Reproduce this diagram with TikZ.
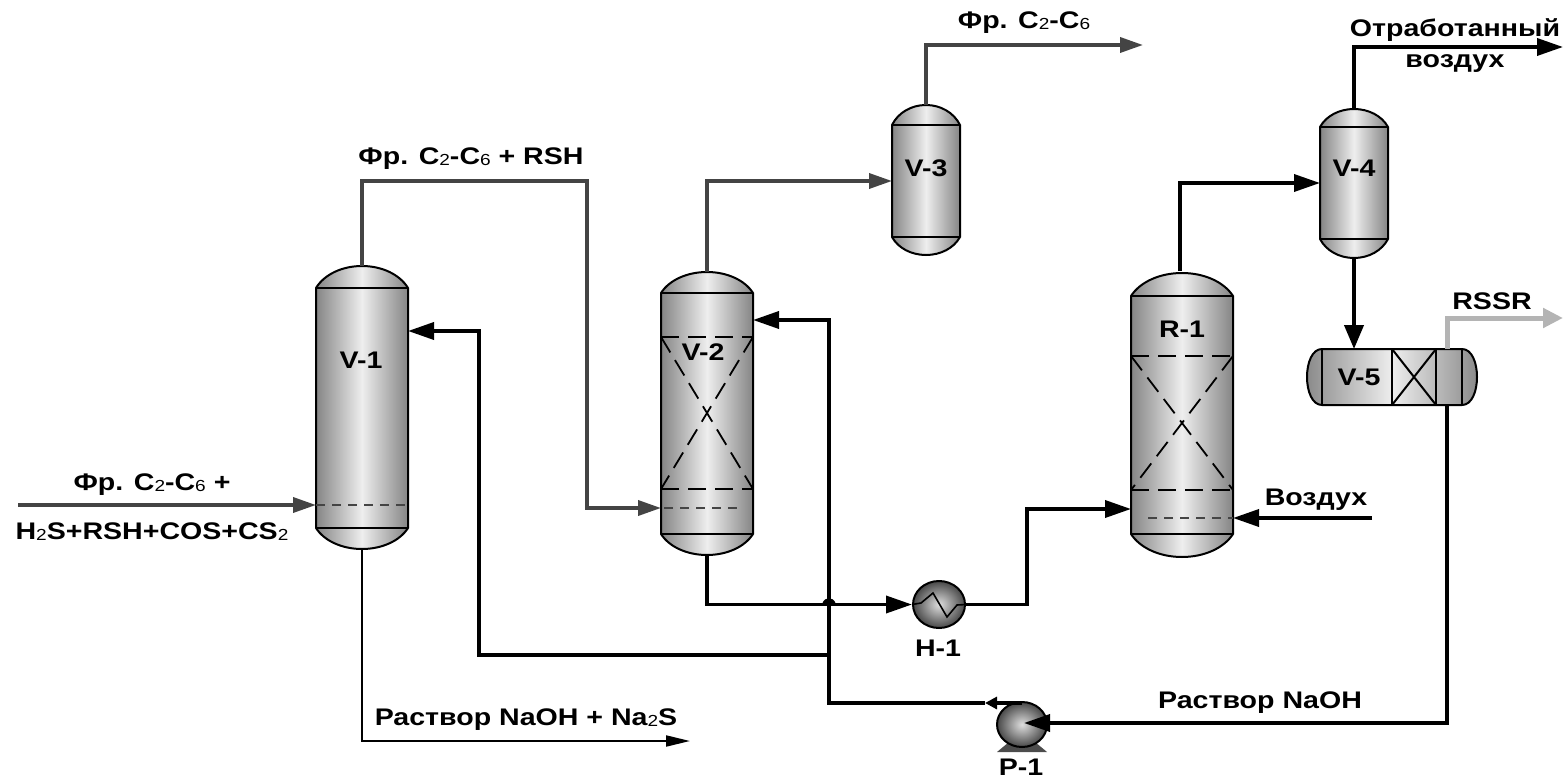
\documentclass[tikz,border=0pt]{standalone}
\usepackage{fontspec}
\setmainfont[FakeStretch=1.19]{Liberation Sans}
\usetikzlibrary{arrows.meta}
\usetikzlibrary{shapes.geometric}

\definecolor{flowdark}{HTML}{444444}
\definecolor{flowlight}{HTML}{B4B4B4}
\definecolor{shellside}{HTML}{858585}
\definecolor{shellmid}{HTML}{EEEEEE}

\newcommand{\subd}[1]{\raisebox{-1pt}{\mdseries\fontsize{16}{16}\selectfont #1}}

% name, centre x, half width, top, top seam, bottom seam, bottom
\newcommand{\Vessel}[7]{
	\draw[shell] ({#2-#3},#5) .. controls ({#2-0.82*#3},{#4+0.38*(#5-#4)}) and ({#2-0.43*#3},#4) .. (#2,#4)
		.. controls ({#2+0.43*#3},#4) and ({#2+0.82*#3},{#4+0.38*(#5-#4)}) .. ({#2+#3},#5)
		-- ({#2+#3},#6) .. controls ({#2+0.82*#3},{#7-0.38*(#7-#6)}) and ({#2+0.43*#3},#7) .. (#2,#7)
		.. controls ({#2-0.43*#3},#7) and ({#2-0.82*#3},{#7-0.38*(#7-#6)}) .. ({#2-#3},#6) -- cycle;
	\draw[seam] ({#2-#3},#5) -- ({#2+#3},#5);
	\draw[seam] ({#2-#3},#6) -- ({#2+#3},#6);
	\node[inner sep=0pt, outer sep=0pt, minimum width={2*#3 pt}, minimum height={(#7-#4)*1pt}] (#1) at (#2,{(#4+#7)/2}) {};
}
% left, right, top, bottom
\newcommand{\Packing}[4]{
	\draw[packing] (#1,#3) -- (#2,#3) (#1,#4) -- (#2,#4);
	\draw[packing] (#1,#3) -- (#1,#4) (#2,#3) -- (#2,#4);
	\draw[packing] (#1,#3) -- (#2,#4);
	\draw[packing] (#2,#3) -- (#1,#4);
}

\begin{document}
\begin{tikzpicture}[x=1pt,y=-1pt]
	\useasboundingbox (0,0) rectangle (1563,778);

	\tikzset{shell/.style = {draw = black, line width = 2pt, left color = shellside, right color = shellside, middle color = shellmid}}
	\tikzset{seam/.style = {draw = black, line width = 2pt}}
	\tikzset{packing/.style = {draw = black, line width = 1.8pt, dash pattern = on 18pt off 9pt}}
	\tikzset{level/.style = {draw = flowdark, line width = 1.1pt, dash pattern = on 9pt off 7pt}}
	\tikzset{tag/.style = {font = \bfseries\fontsize{24}{26}\selectfont, inner sep = 0pt, anchor = base}}
	\tikzset{drum/.style = {ellipse, draw = black, line width = 2pt, inner sep = 0pt, inner color = shellmid!85!shellside, outer color = black!72}}

	\tikzset{flowblack/.style = {draw = black, line width = 3.6pt, -{Triangle[length=26pt,width=17pt]}}}
	\tikzset{flowgray/.style = {draw = flowdark, line width = 3.6pt, -{Triangle[length=23pt,width=15pt]}}}
	\tikzset{flowthin/.style = {draw = black, line width = 2pt, -{Triangle[length=24pt,width=11pt]}}}
	\tikzset{flowlite/.style = {draw = flowlight, line width = 5pt, -{Triangle[length=20pt,width=19pt]}}}
	\tikzset{pipe/.style = {draw = black, line width = 3.6pt}}

	% columns and drums
	\Vessel{V1}{362}{46}{266}{288}{528}{549}
	\Vessel{V2}{707}{46}{272}{293}{534}{555}
	\Vessel{V3}{926}{34}{105}{125}{237}{255}
	\Vessel{V4}{1354}{34}{109}{127}{239}{258}
	\Vessel{R1}{1182}{51}{273}{296}{534}{557}

	\draw[level] (316,505) -- (408,505);
	\Packing{661}{753}{337}{489}
	\draw[level] (664,508) -- (740,508);
	\Packing{1131}{1233}{356}{490}
	\draw[level] (1148,518) -- (1233,518);

	% horizontal separator
	\draw[shell] (1322,349) .. controls (1302,349) and (1302,405) .. (1322,405) -- (1462,405)
		.. controls (1482,405) and (1482,349) .. (1462,349) -- cycle;
	\node[inner sep=0pt, outer sep=0pt, minimum width=170pt, minimum height=56pt] (V5) at (1392,377) {};
	\draw[seam] (1322,349) -- (1322,405) (1392,349) -- (1392,405) (1436,349) -- (1436,405) (1462,349) -- (1462,405);
	\draw[seam] (1392,349) -- (1436,405) (1436,349) -- (1392,405);

	% heat exchanger and pump
	\node[drum, minimum width=52pt, minimum height=47pt] (H1) at (939,604.5) {};
	\draw[line width=1.6pt] (H1.west) -- (921,603) -- (933,593) -- (947,617) -- (957,605) -- (H1.east);
	\fill[black!70] (997,752) -- (1009,742) -- (1035,742) -- (1047,752) -- cycle;
	\node[drum, minimum width=50pt, minimum height=45pt] (P1) at (1022,724.5) {};

	% labels on equipment
	\node[tag] (V1lab) at (361,368) {V-1};
	\node[tag] (V2lab) at (703,360) {V-2};
	\node[tag] (V3lab) at (926,177) {V-3};
	\node[tag] (V4lab) at (1354,177) {V-4};
	\node[tag] (V5lab) at (1359,385) {V-5};
	\node[tag] (R1lab) at (1182,337) {R-1};
	\node[tag] (H1lab) at (938,656) {H-1};
	\node[tag] (P1lab) at (1021,775) {P-1};

	% free ends and junctions
	\coordinate (feed) at (18,505);
	\coordinate (V1feed) at (316,505);
	\coordinate (V1back) at (408,331);
	\coordinate (V2feed) at (661,508);
	\coordinate (V2back) at (753,320);
	\coordinate (V3feed) at (892,181);
	\coordinate (V4feed) at (1320,183);
	\coordinate (R1feed) at (1131,509);
	\coordinate (R1air) at (1233,518);
	\coordinate (airin) at (1372,518);
	\coordinate (gasout) at (1143,45);
	\coordinate (airout) at (1563,47);
	\coordinate (rssrout) at (1563,318);
	\coordinate (causticout) at (690,741);
	\coordinate (V5off) at (1447,349);
	\coordinate (V5low) at (1447,405);
	\coordinate (P1in) at (1024,723);
	\coordinate (P1out) at (1022,703);
	\coordinate (P1mark) at (985,703);
	\coordinate (split) at (829,655);
	\coordinate (hop1) at (822,604);
	\coordinate (hop2) at (836,604);
	\coordinate (Rise) at (829,320);

	% gas side
	\draw[flowgray] (feed) -- (V1feed);
	\draw[flowgray] (V1.north) -- (362,181) -- (587,181) -- (587,508) -- (V2feed);
	\draw[flowgray] (V2.north) |- (V3feed);
	\draw[flowgray] (V3.north) |- (gasout);
	\draw[flowthin] (V1.south) |- (causticout);

	% caustic loop
	\fill (hop1) .. controls (825,596) and (833,596) .. (hop2) -- cycle;
	\draw[flowblack] (V2.south) |- (H1.west);
	\draw[flowblack] (H1.east) -- (1027,604.5) -- (1027,509) -- (R1feed);
	\draw[flowblack] (airin) -- (R1air);
	\draw[flowblack] (1180,271) |- (V4feed);
	\draw[flowblack] (V4.north) |- (airout);
	\draw[draw=black, line width=4pt, -{Triangle[length=24pt,width=19pt]}] (V4.south) -- (V5.north -| V4.south);
	\draw[flowlite] (V5off) |- (rssrout);
	\draw[flowblack] (V5low) |- (P1in);
	\draw[pipe, -{Triangle[length=12pt,width=12pt]}] (P1out) -- (P1mark);
	\draw[flowblack] (P1mark) -- (829,703) -- (Rise) -- (V2back);
	\draw[flowblack] (split) -- (479,655) -- (479,331) -- (V1back);

	% stream labels
	\node[tag] (gaslab) at (1024,29) {Фр. C\subd{2}-C\subd{6}};
	\node[tag] (richlab) at (471,165) {Фр. C\subd{2}-C\subd{6} + RSH};
	\node[tag] (feedlab1) at (152,490) {Фр. C\subd{2}-C\subd{6} +};
	\node[tag] (feedlab2) at (152,539) {H\subd{2}S+RSH+COS+CS\subd{2}};
	\node[tag] (spentlab) at (526,725) {Раствор NaOH + Na\subd{2}S};
	\node[tag] (leanlab) at (1260,708) {Раствор NaOH};
	\node[tag] (airlab) at (1316,505) {Воздух};
	\node[tag] (offlab1) at (1455,37) {Отработанный};
	\node[tag] (offlab2) at (1455,68) {воздух};
	\node[tag] (rssrlab) at (1492,309) {RSSR};
\end{tikzpicture}
\end{document}
